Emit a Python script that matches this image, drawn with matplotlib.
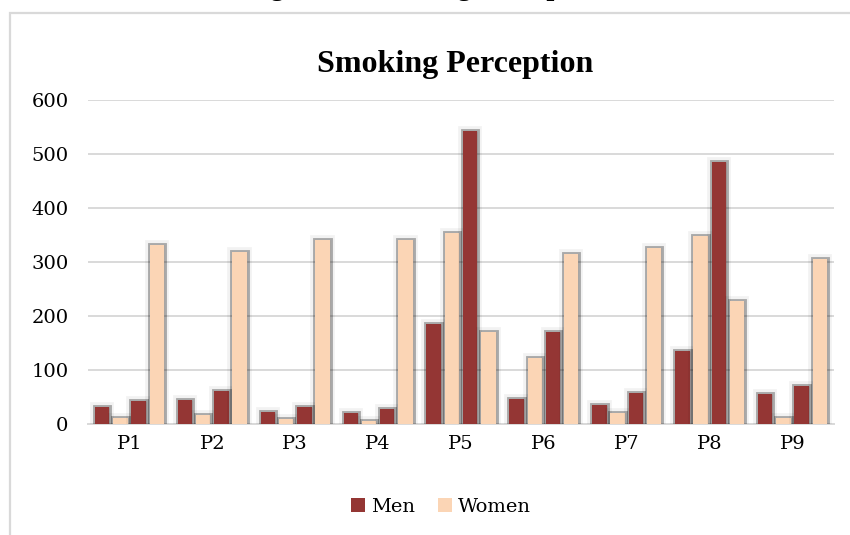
import matplotlib
matplotlib.use("Agg")
import matplotlib.pyplot as plt
import matplotlib.patheffects as pe
from matplotlib.patches import Rectangle, Patch
import numpy as np

categories = ["P1", "P2", "P3", "P4", "P5", "P6", "P7", "P8", "P9"]
# four bars per perception item: Men, Women, Men, Women
men_a = [32, 44, 23, 20, 186, 47, 35, 136, 56]
women_a = [12, 17, 9, 6, 354, 122, 21, 348, 12]
men_b = [42, 61, 32, 28, 543, 170, 58, 485, 71]
women_b = [332, 319, 341, 341, 171, 314, 326, 227, 305]
y_ticks = [0, 100, 200, 300, 400, 500, 600]

MEN = "#943634"
WOMEN = "#FBD5B5"

W, H = 850, 535
fig = plt.figure(figsize=(W / 100, H / 100), dpi=100)

# outer frame of the chart object
fig.patches.append(Rectangle((10 / W, -0.1), 1.2, 1.1 - 13 / H, transform=fig.transFigure,
                             fill=False, edgecolor="#d9d9d9", linewidth=1.6, zorder=0))

# caption line of the document above the chart
fig.text(245 / W, 1 + 5 / H, "Figure 1: Smoking Perception", ha="left", va="baseline",
         fontsize=20.6, fontweight="bold", family="Liberation Serif", color="black")

ax = fig.add_axes([88 / W, (H - 424) / H, (834 - 88) / W, (424 - 100) / H])

x = np.arange(len(categories))
pitch = 0.22
width = 0.175
glow = [pe.Stroke(linewidth=7, foreground="black", alpha=0.05),
        pe.Stroke(linewidth=3.5, foreground="black", alpha=0.3),
        pe.Normal()]
series = [(men_a, MEN), (women_a, WOMEN), (men_b, MEN), (women_b, WOMEN)]
for i, (vals, col) in enumerate(series):
    bars = ax.bar(x + (i - 1.5) * pitch, vals, width=width, color=col, linewidth=0, zorder=3)
    for b in bars:
        b.set_path_effects(glow)

ax.set_xlim(-0.5, len(categories) - 0.5)
ax.set_ylim(0, 600)
ax.set_yticks(y_ticks)
ax.set_xticks(x)
ax.set_xticklabels(categories)
ax.grid(axis="y", color="#d9d9d9", linewidth=1.4, zorder=0)
ax.set_axisbelow(True)
for s in ["top", "right", "left"]:
    ax.spines[s].set_visible(False)
ax.spines["bottom"].set_color("#d9d9d9")
ax.spines["bottom"].set_linewidth(1.4)
ax.tick_params(axis="both", length=0, labelsize=14)
ax.tick_params(axis="y", pad=14)
ax.tick_params(axis="x", pad=8)
for lab in ax.get_xticklabels() + ax.get_yticklabels():
    lab.set_family("DejaVu Serif")

ax.set_title("Smoking Perception", fontsize=23, fontweight="bold", family="Liberation Serif",
             pad=20, x=(455 - 88) / (834 - 88))

handles = [Patch(facecolor=MEN, edgecolor="none", label="Men"),
           Patch(facecolor=WOMEN, edgecolor="none", label="Women")]
fig.legend(handles=handles, loc="center", bbox_to_anchor=(441 / W, 1 - 507 / H), ncol=2,
           frameon=False, prop={"family": "DejaVu Serif", "size": 14},
           handlelength=0.7, handleheight=0.7, handletextpad=0.3, columnspacing=1.2)

fig.savefig("out.png", dpi=100)
